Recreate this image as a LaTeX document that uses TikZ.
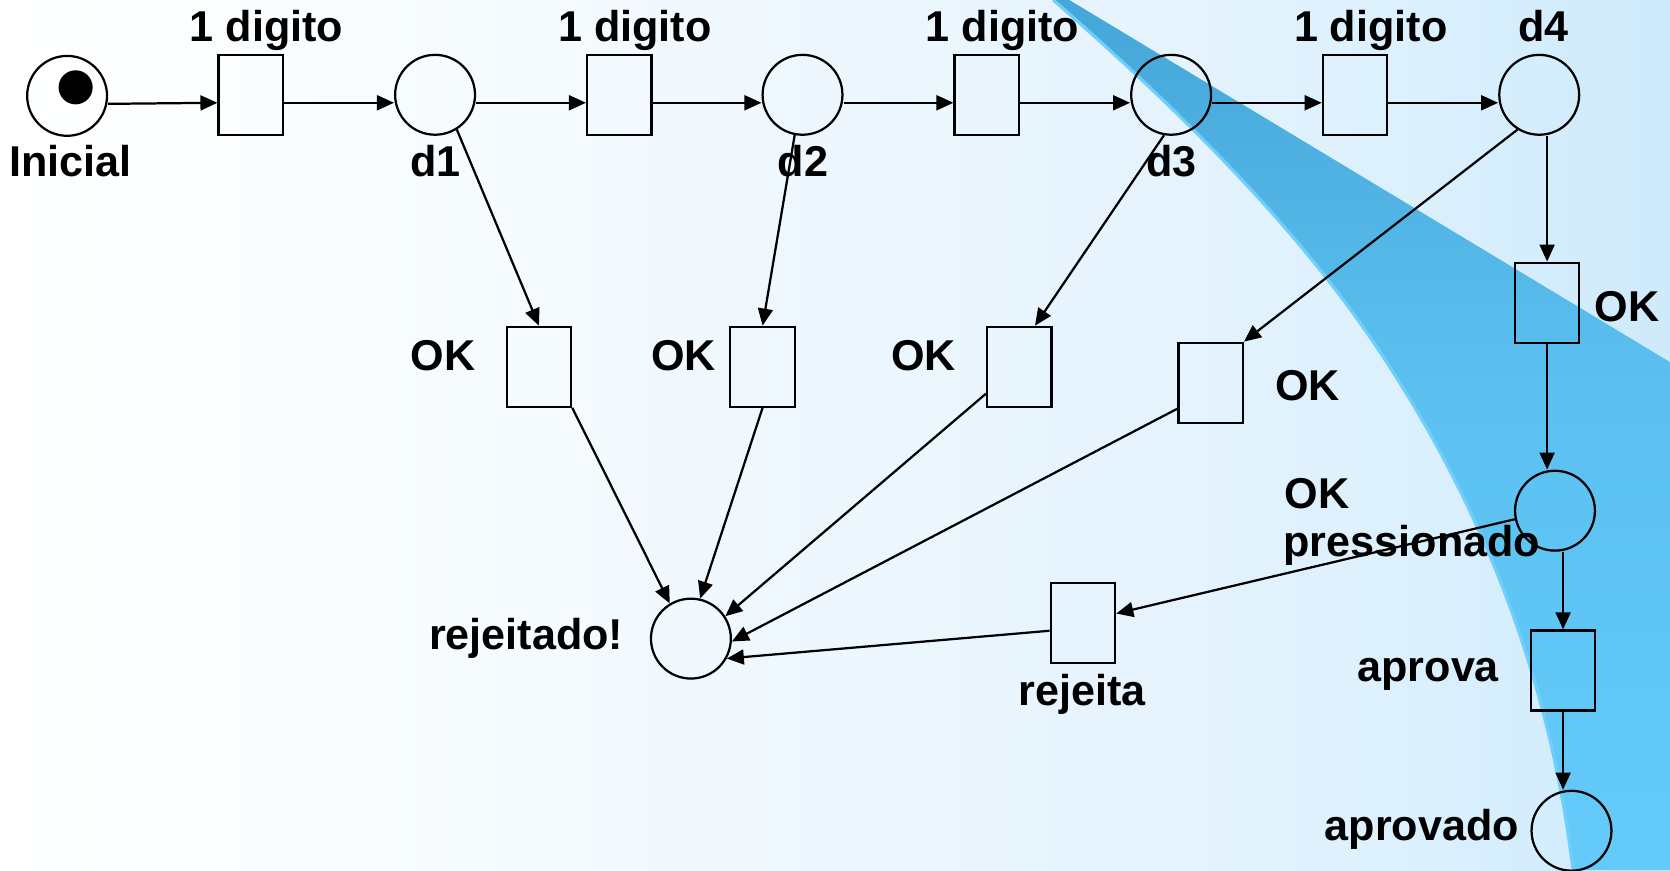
\documentclass[tikz,border=0pt]{standalone}
\usepackage{fontspec}
\setmainfont{Liberation Sans}
\usetikzlibrary{arrows.meta,calc}

\definecolor{bg0}{HTML}{FFFFFF}
\definecolor{bg1}{HTML}{FCFEFF}
\definecolor{bg2}{HTML}{F2F9FE}
\definecolor{bg3}{HTML}{E5F3FD}
\definecolor{bg4}{HTML}{DBF0FD}
\definecolor{bg5}{HTML}{CEEAFB}
\definecolor{swhi}{HTML}{45A6D8}
\definecolor{swmid}{HTML}{5CC1F1}
\definecolor{swlo}{HTML}{63CAFA}
\definecolor{swedge}{HTML}{6FCFFC}
\pgfdeclarehorizontalshading{slide}{100bp}{color(0bp)=(bg0); color(25bp)=(bg0);
  color(30bp)=(bg1); color(45bp)=(bg2); color(60bp)=(bg3); color(67.5bp)=(bg4);
  color(75bp)=(bg5); color(100bp)=(bg5)}
\pgfdeclareverticalshading{swoosh}{100bp}{color(0bp)=(swlo); color(25bp)=(swlo);
  color(52bp)=(swmid); color(75bp)=(swhi); color(100bp)=(swhi)}

\begin{document}
\begin{tikzpicture}[x=1pt,y=-1pt,
    place/.style={draw,circle,line width=2.1pt,minimum size=75pt,inner sep=0pt},
    trans/.style={draw,rectangle,line width=2.1pt,minimum width=60.5pt,
                  minimum height=75pt,inner sep=0pt},
    token/.style={circle,fill=black,minimum size=32pt,inner sep=0pt},
    lbl/.style={font=\bfseries\fontsize{40.5}{44}\selectfont,inner sep=0pt,anchor=base},
    arc/.style={line width=2.1pt,-{Triangle[length=16pt,width=14pt]}}]
%
  \useasboundingbox (0,0) rectangle (1568,817) ;
%
  % background and the blue swoosh
  \shade [shading=slide] (0,0) rectangle (1568,817) ;
  \shade [shading=swoosh] (989,0) -- (1004,0) -- (1568,340) -- (1568,817) -- (1477,817)
    .. controls (1457,653) and (1402,489) .. (1292,325)
    .. controls (1220,217) and (1113,108) .. (989,0) -- cycle ;
  \draw [swedge,line width=3pt] (1477,817)
    .. controls (1457,653) and (1402,489) .. (1292,325)
    .. controls (1220,217) and (1113,108) .. (989,0) ;
%
  % top row: digits typed one by one
  \node [place] (ini) at (63,90) {} ;
  \node [token] (tok) at (71,82) {} ;
  \node [trans] (t1) at (235.5,89) {} ;
  \node [place] (d1) at (408.5,89) {} ;
  \node [trans] (t2) at (581.5,89) {} ;
  \node [place] (d2) at (753.5,89) {} ;
  \node [trans] (t3) at (926.5,89) {} ;
  \node [place] (d3) at (1099.6,89) {} ;
  \node [trans] (t4) at (1272.3,89) {} ;
  \node [place] (d4) at (1445.2,89) {} ;
%
  % OK pressed too early / in time
  \node [trans] (ok1) at (506,344.3) {} ;
  \node [trans] (ok2) at (716,344.3) {} ;
  \node [trans] (ok3) at (957,344.3) {} ;
  \node [trans] (ok4) at (1136.7,359.3) {} ;
  \node [trans] (ok5) at (1452.6,284.2) {} ;
  \node [place] (okp) at (1460,479.5) {} ;
  \node [trans] (apv) at (1467.6,629.5) {} ;
  \node [place] (apd) at (1475.5,780) {} ;
  \node [place] (rej) at (648.7,599.6) {} ;
  \node [trans] (rjt) at (1016.8,585) {} ;
%
  % labels
  \node [lbl] (t1-lbl) at (250.2,39) {1 digito} ;
  \node [lbl] (t2-lbl) at (596.2,39) {1 digito} ;
  \node [lbl] (t3-lbl) at (941.2,39) {1 digito} ;
  \node [lbl] (t4-lbl) at (1287,39) {1 digito} ;
  \node [lbl] (d4-lbl) at (1449,39) {d4} ;
  \node [lbl] (ini-lbl) at (66,166) {Inicial} ;
  \node [lbl] (d1-lbl) at (409,166) {d1} ;
  \node [lbl] (d2-lbl) at (754,166) {d2} ;
  \node [lbl] (d3-lbl) at (1100,166) {d3} ;
  \node [lbl] (ok1-lbl) at (416,347.4) {OK} ;
  \node [lbl] (ok2-lbl) at (642,347.4) {OK} ;
  \node [lbl] (ok3-lbl) at (867,347.4) {OK} ;
  \node [lbl] (ok4-lbl) at (1227.7,375.6) {OK} ;
  \node [lbl] (ok5-lbl) at (1527.7,302) {OK} ;
  \node [lbl,anchor=base west] (okp-lbl) at (1206,477.3) {OK} ;
  \node [lbl,anchor=base west] (okp-lbl2) at (1205,522.7) {pressionado} ;
  \node [lbl] (rej-lbl) at (494,609.6) {rejeitado!} ;
  \node [lbl] (rjt-lbl) at (1015.8,662) {rejeita} ;
  \node [lbl] (apv-lbl) at (1341,640) {aprova} ;
  \node [lbl] (apd-lbl) at (1335,789.5) {aprovado} ;
%
  \foreach \a/\b in {ini/t1,t1/d1,d1/t2,t2/d2,d2/t3,t3/d3,d3/t4,t4/d4}
    \draw [arc] ([yshift=-7.5pt]\a.east) -- ([yshift=-7.5pt]\b.west) ;
%
  \draw [arc] (d1.-58) -- (ok1.north) ;
  \draw [arc] (d2.-101) -- (ok2.north) ;
  \draw [arc] (d3.260) -- (ok3.69) ;
  \draw [arc] (d4.-122) -- (ok4.north east) ;
  \draw [arc] (d4.south -| ok5.north) -- (ok5.north) ;
  \draw [arc] (ok5.south) -- (ok5.south |- okp.north) ;
  \draw [arc] (okp.south -| apv.north) -- (apv.north) ;
  \draw [arc] (apv.south) -- (apv.south |- apd.north) ;
  \draw [arc] (okp.192) -- (rjt.16) ;
  \draw [arc] (rjt.193) -- (rej.-29) ;
  \draw [arc] (ok1.south east) -- (rej.121) ;
  \draw [arc] (ok2.south) -- (rej.77) ;
  \draw [arc] (ok3.219) -- (rej.33) ;
  \draw [arc] (ok4.218) -- (rej.-4) ;

\end{tikzpicture}
\end{document}
